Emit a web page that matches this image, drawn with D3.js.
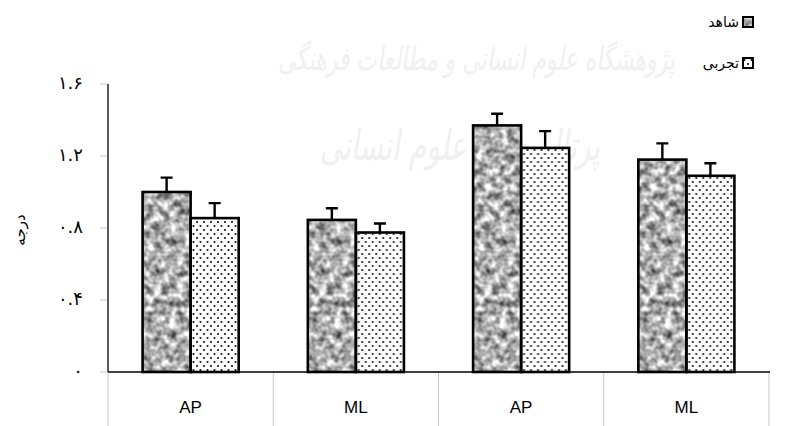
<!DOCTYPE html>
<html><head><meta charset="utf-8">
<script src="https://cdn.jsdelivr.net/npm/d3@7/dist/d3.min.js"></script>
<style>body{margin:0;background:#fff}svg{display:block}</style>
</head><body>
<svg id="c" width="799" height="426"></svg>
<script>
// ---- data ----
const categories = ["AP", "ML", "AP", "ML"];
const seriesNames = ["شاهد", "تجربی"];
const controlValues = [1.00, 0.845, 1.37, 1.18];
const controlErrors = [0.08, 0.065, 0.065, 0.09];
const experimentValues = [0.855, 0.775, 1.245, 1.09];
const experimentErrors = [0.083, 0.05, 0.093, 0.07];
const yTicks = [0, 0.4, 0.8, 1.2, 1.6];
const yTickLabels = ["۰", "۰.۴", "۰.۸", "۱.۲", "۱.۶"];
const yTitle = "درجه";
const watermark1 = "پژوهشگاه علوم انسانی و مطالعات فرهنگی";
const watermark2 = "پرتال جامع علوم انسانی";

const svg = d3.select("#c");
const defs = svg.append("defs");

// granite-like texture
const f = defs.append("filter").attr("id", "granite")
  .attr("x", 0).attr("y", 0).attr("width", 1).attr("height", 1)
  .attr("color-interpolation-filters", "sRGB");
f.append("feTurbulence").attr("type", "fractalNoise").attr("baseFrequency", 0.13)
  .attr("numOctaves", 2).attr("seed", 7).attr("result", "n");
f.append("feColorMatrix").attr("type", "matrix")
  .attr("values", "1.25 0 0 0 0.06  1.25 0 0 0 0.06  1.25 0 0 0 0.06  0 0 0 0 1");

// dotted pattern
const p = defs.append("pattern").attr("id", "dots").attr("patternUnits", "userSpaceOnUse")
  .attr("width", 7).attr("height", 8);
p.append("rect").attr("width", 7).attr("height", 8).attr("fill", "#fff");
p.append("circle").attr("cx", 1.5).attr("cy", 2).attr("r", 1.05).attr("fill", "#111");
p.append("circle").attr("cx", 5).attr("cy", 6).attr("r", 1.05).attr("fill", "#111");

// watermark (faint background)
svg.append("text").attr("transform", "translate(675,70) scale(1,1.5)").attr("text-anchor", "end")
  .attr("font-family", "DejaVu Sans").attr("font-size", 22).attr("font-style", "italic")
  .attr("fill", "#f0f0f0")
  .text(watermark1);
svg.append("text").attr("transform", "translate(600,160) scale(1,1.5)").attr("text-anchor", "end")
  .attr("font-family", "DejaVu Sans").attr("font-size", 28).attr("font-style", "italic")
  .attr("fill", "#f0f0f0")
  .text(watermark2);

// scales
const x0 = d3.scaleBand().domain(d3.range(categories.length)).range([108, 769]);
const x1 = d3.scaleBand().domain([0, 1]).range([0, x0.bandwidth()]).paddingOuter(0.72);
const y = d3.scaleLinear().domain([0, 1.6]).range([372, 84]);

// y ticks (gray)
svg.append("g").selectAll("line").data(yTicks).join("line")
  .attr("x1", 100).attr("x2", 108).attr("y1", d => y(d)).attr("y2", d => y(d))
  .attr("stroke", "#c8c8c8").attr("stroke-width", 1);
svg.append("g").selectAll("text").data(yTicks).join("text")
  .attr("x", 83).attr("y", d => y(d) + 5).attr("text-anchor", "end")
  .attr("font-family", "DejaVu Sans").attr("font-size", 18)
  .attr("fill", "#000")
  .text((d, i) => yTickLabels[i]);

// category separators
const seps = d3.range(categories.length + 1).map(i => i < categories.length ? x0(i) : x0(i - 1) + x0.bandwidth());
svg.append("g").selectAll("line").data(seps).join("line")
  .attr("x1", d => d).attr("x2", d => d).attr("y1", 372).attr("y2", 426)
  .attr("stroke", "#c8c8c8").attr("stroke-width", 1);

// bars
const groups = categories.map((c, i) => ({
  i, vals: [
    { s: 0, v: controlValues[i], e: controlErrors[i] },
    { s: 1, v: experimentValues[i], e: experimentErrors[i] }
  ]
}));
const g = svg.append("g").selectAll("g").data(groups).join("g")
  .attr("transform", d => `translate(${x0(d.i)},0)`);
g.selectAll("rect.fill").data(d => d.vals).join("rect").attr("class", "fill")
  .attr("x", d => x1(d.s)).attr("width", x1.bandwidth())
  .attr("y", d => y(d.v)).attr("height", d => y(0) - y(d.v))
  .attr("fill", d => d.s === 0 ? "#999" : "url(#dots)")
  .attr("filter", d => d.s === 0 ? "url(#granite)" : null);
g.selectAll("rect.out").data(d => d.vals).join("rect").attr("class", "out")
  .attr("x", d => x1(d.s)).attr("width", x1.bandwidth())
  .attr("y", d => y(d.v)).attr("height", d => y(0) - y(d.v))
  .attr("fill", "none").attr("stroke", "#000").attr("stroke-width", 2.6);
g.selectAll("path.err").data(d => d.vals).join("path").attr("class", "err")
  .attr("d", d => {
    const cx = x1(d.s) + x1.bandwidth() / 2;
    return `M${cx},${y(d.v)}V${y(d.v + d.e)}M${cx - 6},${y(d.v + d.e)}H${cx + 6}`;
  })
  .attr("fill", "none").attr("stroke", "#000").attr("stroke-width", 2.4);

// axes lines
svg.append("line").attr("x1", 108).attr("x2", 108).attr("y1", y(1.6)).attr("y2", y(0))
  .attr("stroke", "#000").attr("stroke-width", 1.3);
svg.append("line").attr("x1", 108).attr("x2", 770).attr("y1", y(0)).attr("y2", y(0))
  .attr("stroke", "#000").attr("stroke-width", 1.3);

// x labels
svg.append("g").selectAll("text").data(categories).join("text")
  .attr("x", (d, i) => x0(i) + x0.bandwidth() / 2).attr("y", 413)
  .attr("text-anchor", "middle").attr("font-family", "Liberation Sans, Arial")
  .attr("font-size", 17).attr("fill", "#000").text(d => d);

// y title
svg.append("text").attr("transform", "translate(25,230) rotate(-90)")
  .attr("text-anchor", "middle").attr("font-family", "DejaVu Sans").attr("font-size", 15)
  .text(yTitle);

// legend
const lg = svg.append("g").selectAll("g").data(seriesNames).join("g")
  .attr("transform", (d, i) => `translate(743,${17 + i * 41})`);
lg.append("rect").attr("width", 10).attr("height", 10)
  .attr("fill", (d, i) => i === 0 ? "#999" : "url(#dots)")
  .attr("filter", (d, i) => i === 0 ? "url(#granite)" : null);
lg.append("rect").attr("width", 10).attr("height", 10).attr("fill", "none")
  .attr("stroke", "#000").attr("stroke-width", 2);
lg.append("text").attr("x", -4).attr("y", 10).attr("text-anchor", "end")
  .attr("font-family", "DejaVu Sans").attr("font-size", 14).attr("fill", "#000")
  .text(d => d);
</script>
</body></html>
